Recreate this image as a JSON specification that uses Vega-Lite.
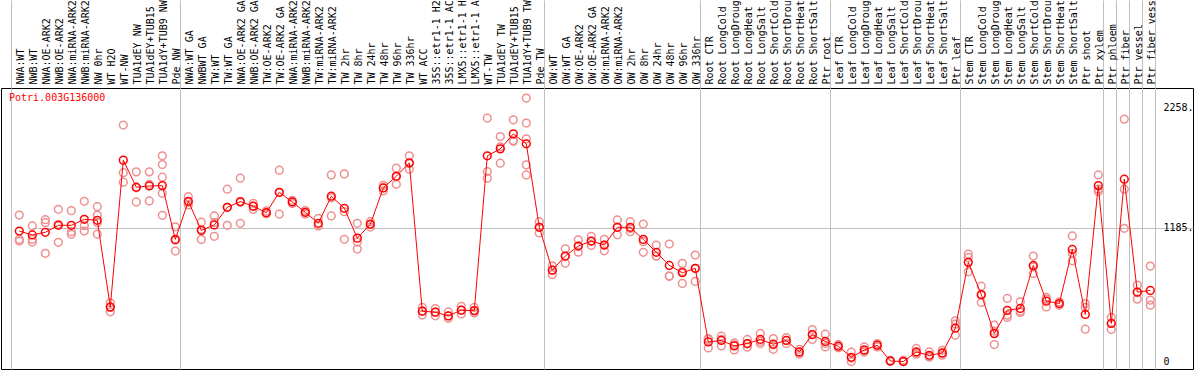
{
"$schema": "https://vega.github.io/schema/vega-lite/v6.json",
"width": 1192, "height": 281,
"autosize": {"type": "none"},
"padding": {"left": 1, "top": 88, "right": 1, "bottom": 1},
"background": "white",
"config": {"view": {"stroke": "black", "strokeWidth": 1}, "axis": {"labelFont": "DejaVu Sans Mono", "labelFontSize": 10, "labelColor": "black"}},
"title": {"text": "Potri.003G136000", "anchor": "start", "frame": "group", "offset": -103, "dx": 8, "color": "red", "font": "DejaVu Sans Mono", "fontSize": 10, "fontWeight": "normal"},
"datasets": {
"means": [
{"sample":"NWA:WT","value":1158},{"sample":"NWB:WT","value":1123},{"sample":"NWA:OE-ARK2","value":1147},{"sample":"NWB:OE-ARK2","value":1209},{"sample":"NWA:miRNA-ARK2","value":1209},{"sample":"NWB:miRNA-ARK2","value":1262},{"sample":"NW 0hr","value":1253},{"sample":"WT H2O","value":483},{"sample":"WT-NW","value":1787},{"sample":"TUA1dEY NW","value":1547},{"sample":"TUA1dEY+TUB15 NW","value":1558},{"sample":"TUA1dY+TUB9 NW","value":1561},{"sample":"Pde NW","value":1084},
{"sample":"NWA:WT GA","value":1422},{"sample":"NWBWT GA","value":1164},{"sample":"TW:WT","value":1212},{"sample":"TW:WT GA","value":1369},{"sample":"NWA:OE-ARK2 GA","value":1419},{"sample":"NWB:OE-ARK2 GA","value":1378},{"sample":"TW:OE-ARK2","value":1321},{"sample":"TW:OE-ARK2 GA","value":1502},{"sample":"NWA:miRNA-ARK2 GA","value":1416},{"sample":"NWB:miRNA-ARK2 GA","value":1324},{"sample":"TW:miRNA-ARK2","value":1227},{"sample":"TW:miRNA-ARK2 GA","value":1467},{"sample":"TW 2hr","value":1360},{"sample":"TW 8hr","value":1095},{"sample":"TW 24hr","value":1218},{"sample":"TW 48hr","value":1540},{"sample":"TW 96hr","value":1644},{"sample":"TW 336hr","value":1763},{"sample":"WT ACC","value":447},{"sample":"35S::etr1-1 H2O","value":438},{"sample":"35S::etr1-1 ACC","value":405},{"sample":"LMX5::etr1-1 H2O","value":456},{"sample":"LMX5::etr1-1 ACC","value":452},{"sample":"WT-TW","value":1825},{"sample":"TUA1dEY TW","value":1887},{"sample":"TUA1dEY+TUB15 TW","value":2020},{"sample":"TUA1dY+TUB9 TW","value":1932},{"sample":"Pde TW","value":1191},
{"sample":"OW:WT","value":811},{"sample":"OW:WT GA","value":936},{"sample":"OW:OE-ARK2","value":1025},{"sample":"OW:OE-ARK2 GA","value":1069},{"sample":"OW:miRNA-ARK2","value":1034},{"sample":"OW:miRNA-ARK2 GA","value":1191},{"sample":"OW 2hr","value":1191},{"sample":"OW 8hr","value":1084},{"sample":"OW 24hr","value":969},{"sample":"OW 48hr","value":853},{"sample":"OW 96hr","value":788},{"sample":"OW 336hr","value":827},
{"sample":"Root CTR","value":174},{"sample":"Root LongCold","value":187},{"sample":"Root LongDrought","value":139},{"sample":"Root LongHeat","value":160},{"sample":"Root LongSalt","value":196},{"sample":"Root ShortCold","value":154},{"sample":"Root ShortDrought","value":187},{"sample":"Root ShortHeat","value":85},{"sample":"Root ShortSalt","value":240},{"sample":"Ptr root","value":178},
{"sample":"Leaf CTR","value":136},{"sample":"Leaf LongCold","value":38},{"sample":"Leaf LongDrought","value":103},{"sample":"Leaf LongHeat","value":145},{"sample":"Leaf LongSalt","value":5},{"sample":"Leaf ShortCold","value":0},{"sample":"Leaf ShortDrought","value":85},{"sample":"Leaf ShortHeat","value":56},{"sample":"Leaf ShortSalt","value":76},{"sample":"Ptr leaf","value":296},
{"sample":"Stem CTR","value":880},{"sample":"Stem LongCold","value":594},{"sample":"Stem LongDrought","value":248},{"sample":"Stem LongHeat","value":455},{"sample":"Stem LongSalt","value":471},{"sample":"Stem ShortCold","value":853},{"sample":"Stem ShortDrought","value":536},{"sample":"Stem ShortHeat","value":515},{"sample":"Stem ShortSalt","value":995},{"sample":"Ptr shoot","value":418},
{"sample":"Ptr xylem","value":1561},{"sample":"Ptr phloem","value":338},{"sample":"Ptr fiber","value":1618},{"sample":"Ptr vessel","value":616},{"sample":"Ptr fiber vessel","value":631}
],
"reps": [
{"sample":"NWA:WT","value":1300},{"sample":"NWA:WT","value":1084},{"sample":"NWA:WT","value":1069},
{"sample":"NWB:WT","value":1203},{"sample":"NWB:WT","value":1084},{"sample":"NWB:WT","value":1060},
{"sample":"NWA:OE-ARK2","value":1259},{"sample":"NWA:OE-ARK2","value":1232},{"sample":"NWA:OE-ARK2","value":960},
{"sample":"NWB:OE-ARK2","value":1351},{"sample":"NWB:OE-ARK2","value":1218},{"sample":"NWB:OE-ARK2","value":1058},
{"sample":"NWA:miRNA-ARK2","value":1339},{"sample":"NWA:miRNA-ARK2","value":1152},{"sample":"NWA:miRNA-ARK2","value":1129},
{"sample":"NWB:miRNA-ARK2","value":1422},{"sample":"NWB:miRNA-ARK2","value":1206},{"sample":"NWB:miRNA-ARK2","value":1158},
{"sample":"NW 0hr","value":1374},{"sample":"NW 0hr","value":1300},{"sample":"NW 0hr","value":1232},{"sample":"NW 0hr","value":1131},
{"sample":"WT H2O","value":521},{"sample":"WT H2O","value":483},{"sample":"WT H2O","value":441},
{"sample":"WT-NW","value":2098},{"sample":"WT-NW","value":1676},{"sample":"WT-NW","value":1591},
{"sample":"TUA1dEY NW","value":1683},{"sample":"TUA1dEY NW","value":1542},{"sample":"TUA1dEY NW","value":1416},
{"sample":"TUA1dEY+TUB15 NW","value":1683},{"sample":"TUA1dEY+TUB15 NW","value":1573},{"sample":"TUA1dEY+TUB15 NW","value":1425},
{"sample":"TUA1dY+TUB9 NW","value":1825},{"sample":"TUA1dY+TUB9 NW","value":1748},{"sample":"TUA1dY+TUB9 NW","value":1636},{"sample":"TUA1dY+TUB9 NW","value":1493},{"sample":"TUA1dY+TUB9 NW","value":1298},
{"sample":"Pde NW","value":1196},{"sample":"Pde NW","value":1076},{"sample":"Pde NW","value":980},
{"sample":"NWA:WT GA","value":1463},{"sample":"NWA:WT GA","value":1414},{"sample":"NWA:WT GA","value":1389},
{"sample":"NWBWT GA","value":1236},{"sample":"NWBWT GA","value":1172},{"sample":"NWBWT GA","value":1084},
{"sample":"TW:WT","value":1292},{"sample":"TW:WT","value":1233},{"sample":"TW:WT","value":1111},
{"sample":"TW:WT GA","value":1529},{"sample":"TW:WT GA","value":1369},{"sample":"TW:WT GA","value":1209},
{"sample":"NWA:OE-ARK2 GA","value":1627},{"sample":"NWA:OE-ARK2 GA","value":1413},{"sample":"NWA:OE-ARK2 GA","value":1227},
{"sample":"NWB:OE-ARK2 GA","value":1404},{"sample":"NWB:OE-ARK2 GA","value":1379},{"sample":"NWB:OE-ARK2 GA","value":1351},
{"sample":"TW:OE-ARK2","value":1336},{"sample":"TW:OE-ARK2","value":1316},{"sample":"TW:OE-ARK2","value":1311},
{"sample":"TW:OE-ARK2 GA","value":1698},{"sample":"TW:OE-ARK2 GA","value":1499},{"sample":"TW:OE-ARK2 GA","value":1309},
{"sample":"NWA:miRNA-ARK2 GA","value":1430},{"sample":"NWA:miRNA-ARK2 GA","value":1416},{"sample":"NWA:miRNA-ARK2 GA","value":1402},
{"sample":"NWB:miRNA-ARK2 GA","value":1340},{"sample":"NWB:miRNA-ARK2 GA","value":1324},{"sample":"NWB:miRNA-ARK2 GA","value":1308},
{"sample":"TW:miRNA-ARK2","value":1271},{"sample":"TW:miRNA-ARK2","value":1207},{"sample":"TW:miRNA-ARK2","value":1203},
{"sample":"TW:miRNA-ARK2 GA","value":1656},{"sample":"TW:miRNA-ARK2 GA","value":1453},{"sample":"TW:miRNA-ARK2 GA","value":1292},
{"sample":"TW 2hr","value":1665},{"sample":"TW 2hr","value":1330},{"sample":"TW 2hr","value":1085},
{"sample":"TW 8hr","value":1227},{"sample":"TW 8hr","value":1060},{"sample":"TW 8hr","value":998},
{"sample":"TW 24hr","value":1241},{"sample":"TW 24hr","value":1220},{"sample":"TW 24hr","value":1193},
{"sample":"TW 48hr","value":1564},{"sample":"TW 48hr","value":1540},{"sample":"TW 48hr","value":1514},
{"sample":"TW 96hr","value":1716},{"sample":"TW 96hr","value":1643},{"sample":"TW 96hr","value":1573},
{"sample":"TW 336hr","value":1825},{"sample":"TW 336hr","value":1757},{"sample":"TW 336hr","value":1707},
{"sample":"WT ACC","value":480},{"sample":"WT ACC","value":447},{"sample":"WT ACC","value":414},
{"sample":"35S::etr1-1 H2O","value":470},{"sample":"35S::etr1-1 H2O","value":438},{"sample":"35S::etr1-1 H2O","value":406},
{"sample":"35S::etr1-1 ACC","value":440},{"sample":"35S::etr1-1 ACC","value":405},{"sample":"35S::etr1-1 ACC","value":384},
{"sample":"LMX5::etr1-1 H2O","value":490},{"sample":"LMX5::etr1-1 H2O","value":456},{"sample":"LMX5::etr1-1 H2O","value":422},
{"sample":"LMX5::etr1-1 ACC","value":480},{"sample":"LMX5::etr1-1 ACC","value":452},{"sample":"LMX5::etr1-1 ACC","value":432},
{"sample":"WT-TW","value":2160},{"sample":"WT-TW","value":1685},{"sample":"WT-TW","value":1627},
{"sample":"TUA1dEY TW","value":1996},{"sample":"TUA1dEY TW","value":1905},{"sample":"TUA1dEY TW","value":1760},
{"sample":"TUA1dEY+TUB15 TW","value":2145},{"sample":"TUA1dEY+TUB15 TW","value":1961},{"sample":"TUA1dEY+TUB15 TW","value":1954},
{"sample":"TUA1dY+TUB9 TW","value":2338},{"sample":"TUA1dY+TUB9 TW","value":2116},{"sample":"TUA1dY+TUB9 TW","value":1976},{"sample":"TUA1dY+TUB9 TW","value":1745},{"sample":"TUA1dY+TUB9 TW","value":1656},
{"sample":"Pde TW","value":1241},{"sample":"Pde TW","value":1191},{"sample":"Pde TW","value":1141},
{"sample":"OW:WT","value":850},{"sample":"OW:WT","value":811},{"sample":"OW:WT","value":772},
{"sample":"OW:WT GA","value":1000},{"sample":"OW:WT GA","value":936},{"sample":"OW:WT GA","value":872},
{"sample":"OW:OE-ARK2","value":1080},{"sample":"OW:OE-ARK2","value":1025},{"sample":"OW:OE-ARK2","value":970},
{"sample":"OW:OE-ARK2 GA","value":1110},{"sample":"OW:OE-ARK2 GA","value":1069},{"sample":"OW:OE-ARK2 GA","value":1030},
{"sample":"OW:miRNA-ARK2","value":1084},{"sample":"OW:miRNA-ARK2","value":1034},{"sample":"OW:miRNA-ARK2","value":983},
{"sample":"OW:miRNA-ARK2 GA","value":1256},{"sample":"OW:miRNA-ARK2 GA","value":1192},{"sample":"OW:miRNA-ARK2 GA","value":1125},
{"sample":"OW 2hr","value":1241},{"sample":"OW 2hr","value":1180},{"sample":"OW 2hr","value":1152},
{"sample":"OW 8hr","value":1220},{"sample":"OW 8hr","value":1063},{"sample":"OW 8hr","value":969},
{"sample":"OW 24hr","value":1034},{"sample":"OW 24hr","value":937},{"sample":"OW 24hr","value":936},
{"sample":"OW 48hr","value":1043},{"sample":"OW 48hr","value":758},{"sample":"OW 48hr","value":758},
{"sample":"OW 96hr","value":871},{"sample":"OW 96hr","value":800},{"sample":"OW 96hr","value":693},
{"sample":"OW 336hr","value":945},{"sample":"OW 336hr","value":825},{"sample":"OW 336hr","value":711},
{"sample":"Root CTR","value":204},{"sample":"Root CTR","value":197},{"sample":"Root CTR","value":121},
{"sample":"Root LongCold","value":225},{"sample":"Root LongCold","value":197},{"sample":"Root LongCold","value":139},
{"sample":"Root LongDrought","value":165},{"sample":"Root LongDrought","value":149},{"sample":"Root LongDrought","value":103},
{"sample":"Root LongHeat","value":196},{"sample":"Root LongHeat","value":157},{"sample":"Root LongHeat","value":127},
{"sample":"Root LongSalt","value":249},{"sample":"Root LongSalt","value":179},{"sample":"Root LongSalt","value":160},
{"sample":"Root ShortCold","value":204},{"sample":"Root ShortCold","value":149},{"sample":"Root ShortCold","value":109},
{"sample":"Root ShortDrought","value":213},{"sample":"Root ShortDrought","value":187},{"sample":"Root ShortDrought","value":161},
{"sample":"Root ShortHeat","value":109},{"sample":"Root ShortHeat","value":81},{"sample":"Root ShortHeat","value":65},
{"sample":"Root ShortSalt","value":284},{"sample":"Root ShortSalt","value":240},{"sample":"Root ShortSalt","value":196},
{"sample":"Ptr root","value":243},{"sample":"Ptr root","value":161},{"sample":"Ptr root","value":130},
{"sample":"Leaf CTR","value":150},{"sample":"Leaf CTR","value":136},{"sample":"Leaf CTR","value":122},
{"sample":"Leaf LongCold","value":83},{"sample":"Leaf LongCold","value":31},{"sample":"Leaf LongCold","value":0},
{"sample":"Leaf LongDrought","value":130},{"sample":"Leaf LongDrought","value":94},{"sample":"Leaf LongDrought","value":85},
{"sample":"Leaf LongHeat","value":160},{"sample":"Leaf LongHeat","value":145},{"sample":"Leaf LongHeat","value":130},
{"sample":"Leaf LongSalt","value":10},{"sample":"Leaf LongSalt","value":5},{"sample":"Leaf LongSalt","value":0},
{"sample":"Leaf ShortCold","value":12},{"sample":"Leaf ShortCold","value":0},{"sample":"Leaf ShortCold","value":0},
{"sample":"Leaf ShortDrought","value":116},{"sample":"Leaf ShortDrought","value":74},{"sample":"Leaf ShortDrought","value":65},
{"sample":"Leaf ShortHeat","value":85},{"sample":"Leaf ShortHeat","value":42},{"sample":"Leaf ShortHeat","value":41},
{"sample":"Leaf ShortSalt","value":100},{"sample":"Leaf ShortSalt","value":72},{"sample":"Leaf ShortSalt","value":56},
{"sample":"Ptr leaf","value":361},{"sample":"Ptr leaf","value":332},{"sample":"Ptr leaf","value":234},
{"sample":"Stem CTR","value":954},{"sample":"Stem CTR","value":924},{"sample":"Stem CTR","value":796},
{"sample":"Stem LongCold","value":669},{"sample":"Stem LongCold","value":589},{"sample":"Stem LongCold","value":524},
{"sample":"Stem LongDrought","value":323},{"sample":"Stem LongDrought","value":270},{"sample":"Stem LongDrought","value":151},
{"sample":"Stem LongHeat","value":560},{"sample":"Stem LongHeat","value":412},{"sample":"Stem LongHeat","value":391},
{"sample":"Stem LongSalt","value":530},{"sample":"Stem LongSalt","value":447},{"sample":"Stem LongSalt","value":436},
{"sample":"Stem ShortCold","value":936},{"sample":"Stem ShortCold","value":841},{"sample":"Stem ShortCold","value":782},
{"sample":"Stem ShortDrought","value":569},{"sample":"Stem ShortDrought","value":554},{"sample":"Stem ShortDrought","value":485},
{"sample":"Stem ShortHeat","value":530},{"sample":"Stem ShortHeat","value":515},{"sample":"Stem ShortHeat","value":500},
{"sample":"Stem ShortSalt","value":1114},{"sample":"Stem ShortSalt","value":960},{"sample":"Stem ShortSalt","value":894},
{"sample":"Ptr shoot","value":515},{"sample":"Ptr shoot","value":480},{"sample":"Ptr shoot","value":287},
{"sample":"Ptr xylem","value":1656},{"sample":"Ptr xylem","value":1529},{"sample":"Ptr xylem","value":1508},
{"sample":"Ptr phloem","value":391},{"sample":"Ptr phloem","value":339},{"sample":"Ptr phloem","value":284},
{"sample":"Ptr fiber","value":2151},{"sample":"Ptr fiber","value":1529},{"sample":"Ptr fiber","value":1182},
{"sample":"Ptr vessel","value":678},{"sample":"Ptr vessel","value":616},{"sample":"Ptr vessel","value":554},
{"sample":"Ptr fiber vessel","value":847},{"sample":"Ptr fiber vessel","value":545},{"sample":"Ptr fiber vessel","value":500}
]
},
"encoding": {
"y": {"field": "value", "type": "quantitative", "scale": {"domain": [-66, 2427], "nice": false, "zero": false},
 "axis": {"orient": "right", "offset": -30, "values": [0, 1185, 2258], "labelExpr": "datum.value == 0 ? '0' : datum.value + '.'", "labelAlign": "left", "labelBaseline": "middle", "labelPadding": 0, "ticks": false, "domain": false, "grid": true,
  "gridColor": {"condition": {"test": "datum.value == 1185", "value": "#c0c0c0"}, "value": "transparent"}, "gridWidth": 1, "title": null}}
},
"layer": [
{
"data": {"name": "reps"},
"mark": {"type": "point", "shape": "circle", "filled": false, "stroke": "#ee9090", "strokeWidth": 1.5, "size": 60, "opacity": 1},
"encoding": {
 "x": {"field": "sample", "type": "nominal", "sort": null,
  "scale": {"type": "band", "domain": ["NWA:WT","NWB:WT","NWA:OE-ARK2","NWB:OE-ARK2","NWA:miRNA-ARK2","NWB:miRNA-ARK2","NW 0hr","WT H2O","WT-NW","TUA1dEY NW","TUA1dEY+TUB15 NW","TUA1dY+TUB9 NW","Pde NW","NWA:WT GA","NWBWT GA","TW:WT","TW:WT GA","NWA:OE-ARK2 GA","NWB:OE-ARK2 GA","TW:OE-ARK2","TW:OE-ARK2 GA","NWA:miRNA-ARK2 GA","NWB:miRNA-ARK2 GA","TW:miRNA-ARK2","TW:miRNA-ARK2 GA","TW 2hr","TW 8hr","TW 24hr","TW 48hr","TW 96hr","TW 336hr","WT ACC","35S::etr1-1 H2O","35S::etr1-1 ACC","LMX5::etr1-1 H2O","LMX5::etr1-1 ACC","WT-TW","TUA1dEY TW","TUA1dEY+TUB15 TW","TUA1dY+TUB9 TW","Pde TW","OW:WT","OW:WT GA","OW:OE-ARK2","OW:OE-ARK2 GA","OW:miRNA-ARK2","OW:miRNA-ARK2 GA","OW 2hr","OW 8hr","OW 24hr","OW 48hr","OW 96hr","OW 336hr","Root CTR","Root LongCold","Root LongDrought","Root LongHeat","Root LongSalt","Root ShortCold","Root ShortDrought","Root ShortHeat","Root ShortSalt","Ptr root","Leaf CTR","Leaf LongCold","Leaf LongDrought","Leaf LongHeat","Leaf LongSalt","Leaf ShortCold","Leaf ShortDrought","Leaf ShortHeat","Leaf ShortSalt","Ptr leaf","Stem CTR","Stem LongCold","Stem LongDrought","Stem LongHeat","Stem LongSalt","Stem ShortCold","Stem ShortDrought","Stem ShortHeat","Stem ShortSalt","Ptr shoot","Ptr xylem","Ptr phloem","Ptr fiber","Ptr vessel","Ptr fiber vessel"],
   "range": [0, 1161], "paddingInner": 0, "paddingOuter": 0.654, "align": 0.694},
  "axis": {"orient": "top", "values": ["NWA:WT"], "bandPosition": 0, "tickOffset": -2, "labels": false, "domain": false, "ticks": true, "tickSize": 88, "tickColor": "#c0c0c0", "grid": true, "gridColor": "#c0c0c0", "title": null}
 }
}
},
{
"data": {"name": "means"},
"mark": {"type": "line", "color": "red", "strokeWidth": 1, "point": {"filled": false, "shape": "circle", "size": 60, "stroke": "red", "strokeWidth": 1.5, "fill": null}},
"encoding": {
 "x": {"field": "sample", "type": "nominal", "sort": null,
  "scale": {"type": "band", "domain": ["NWA:WT","NWB:WT","NWA:OE-ARK2","NWB:OE-ARK2","NWA:miRNA-ARK2","NWB:miRNA-ARK2","NW 0hr","WT H2O","WT-NW","TUA1dEY NW","TUA1dEY+TUB15 NW","TUA1dY+TUB9 NW","Pde NW","NWA:WT GA","NWBWT GA","TW:WT","TW:WT GA","NWA:OE-ARK2 GA","NWB:OE-ARK2 GA","TW:OE-ARK2","TW:OE-ARK2 GA","NWA:miRNA-ARK2 GA","NWB:miRNA-ARK2 GA","TW:miRNA-ARK2","TW:miRNA-ARK2 GA","TW 2hr","TW 8hr","TW 24hr","TW 48hr","TW 96hr","TW 336hr","WT ACC","35S::etr1-1 H2O","35S::etr1-1 ACC","LMX5::etr1-1 H2O","LMX5::etr1-1 ACC","WT-TW","TUA1dEY TW","TUA1dEY+TUB15 TW","TUA1dY+TUB9 TW","Pde TW","OW:WT","OW:WT GA","OW:OE-ARK2","OW:OE-ARK2 GA","OW:miRNA-ARK2","OW:miRNA-ARK2 GA","OW 2hr","OW 8hr","OW 24hr","OW 48hr","OW 96hr","OW 336hr","Root CTR","Root LongCold","Root LongDrought","Root LongHeat","Root LongSalt","Root ShortCold","Root ShortDrought","Root ShortHeat","Root ShortSalt","Ptr root","Leaf CTR","Leaf LongCold","Leaf LongDrought","Leaf LongHeat","Leaf LongSalt","Leaf ShortCold","Leaf ShortDrought","Leaf ShortHeat","Leaf ShortSalt","Ptr leaf","Stem CTR","Stem LongCold","Stem LongDrought","Stem LongHeat","Stem LongSalt","Stem ShortCold","Stem ShortDrought","Stem ShortHeat","Stem ShortSalt","Ptr shoot","Ptr xylem","Ptr phloem","Ptr fiber","Ptr vessel","Ptr fiber vessel"],
   "range": [0, 1161], "paddingInner": 0, "paddingOuter": 0.654, "align": 0.694},
  "axis": {"orient": "top", "bandPosition": 1, "tickOffset": -1.5, "labelOffset": 2.5, "labelAngle": 270, "labelAlign": "left", "labelBaseline": "middle", "labelPadding": -84, "ticks": true, "tickSize": 88,
   "tickColor": {"condition": {"test": "indexof(['Pde NW','Pde TW','OW 336hr','Ptr root','Ptr leaf','Ptr xylem','Ptr phloem','Ptr fiber','Ptr vessel','Ptr fiber vessel'], datum.value) >= 0", "value": "#c0c0c0"}, "value": "transparent"},
   "grid": true,
   "gridColor": {"condition": {"test": "indexof(['Pde NW','Pde TW','OW 336hr','Ptr root','Ptr leaf','Ptr xylem','Ptr phloem','Ptr fiber','Ptr vessel','Ptr fiber vessel'], datum.value) >= 0", "value": "#c0c0c0"}, "value": "transparent"},
   "domain": false, "labelExpr": "substring(datum.label, 0, 14)", "labelOverlap": false, "labelBound": false, "labelFlush": false, "labelLimit": 200, "title": null}
 }
}
}
],
"resolve": {"axis": {"x": "independent"}}
}
